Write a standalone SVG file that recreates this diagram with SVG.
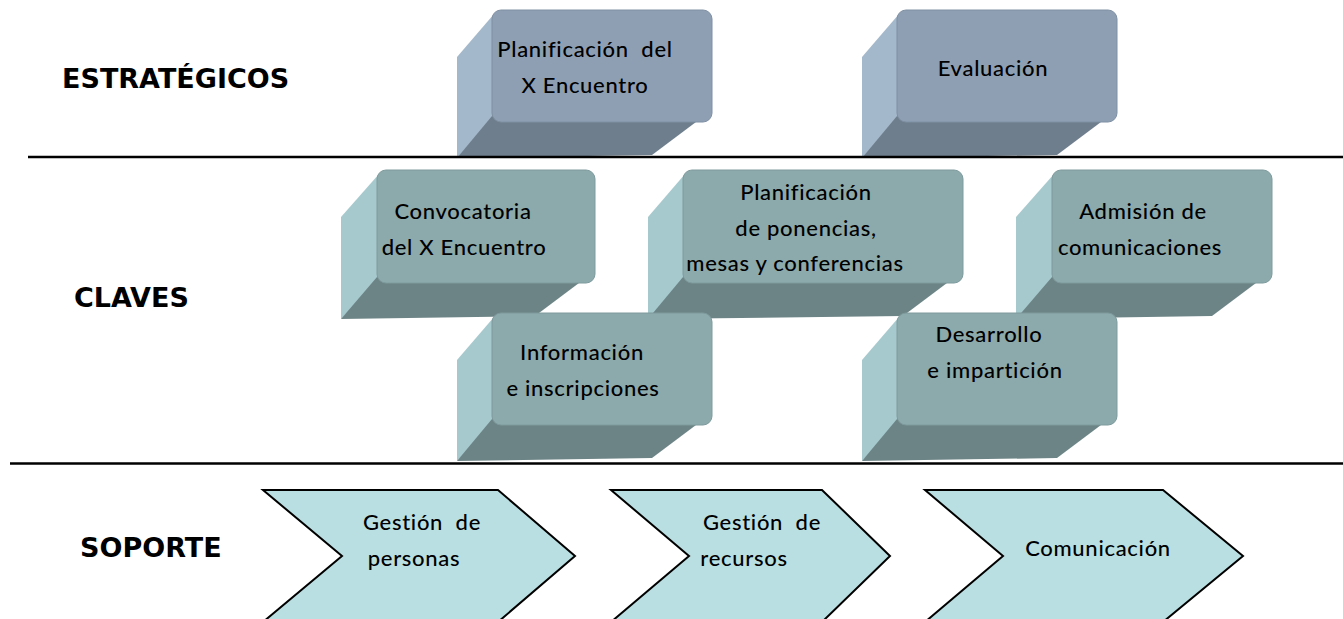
<svg xmlns="http://www.w3.org/2000/svg" width="1343" height="619" viewBox="0 0 1343 619">
<style>
.hd{font-family:"DejaVu Sans","Liberation Sans",sans-serif;font-weight:bold;font-size:27px;fill:#000}
.tx{font-family:Lato,"Open Sans","Liberation Sans",sans-serif;font-size:22px;letter-spacing:0.7px;fill:#000;font-weight:500}
.pre{white-space:pre}
.sf{fill:#8E9FB3;stroke:#7F90A3;stroke-width:1}
.sl{fill:#A4B8CB}
.sb{fill:#6E7E8C}
.cf{fill:#8CA9AB;stroke:#7E9A9C;stroke-width:1}
.cl{fill:#A6C9CE}
.cb{fill:#6D8486}
.chev{fill:#B9DFE2;stroke:#000;stroke-width:2;stroke-linejoin:miter}
.rule{stroke:#000;stroke-width:2.5}
</style>

<g id="label-estrategicos"><text class="hd" x="62" y="88">ESTRATÉGICOS</text></g>
<g id="label-claves"><text class="hd" x="74" y="307">CLAVES</text></g>
<g id="label-soporte"><text class="hd" x="80" y="557">SOPORTE</text></g>

<g id="box-planificacion">
<polygon class="sl" points="494,14 457,57 457,158 494,120"/>
<polygon class="sb" points="492,116 712,110 652,155 457,158"/>
<rect class="sf" x="492" y="10" width="220" height="112" rx="9"/>
<text class="tx pre" x="585" y="57" text-anchor="middle" xml:space="preserve">Planificación  del</text>
<text class="tx" x="585" y="93" text-anchor="middle">X Encuentro</text>
</g>

<g id="box-evaluacion">
<polygon class="sl" points="899,14 862,57 862,158 899,120"/>
<polygon class="sb" points="897,116 1117,110 1057,155 862,158"/>
<rect class="sf" x="897" y="10" width="220" height="112" rx="9"/>
<text class="tx" x="993" y="76" text-anchor="middle">Evaluación</text>
</g>

<g id="box-convocatoria">
<polygon class="cl" points="379,174 341,217 341,319 379,281"/>
<polygon class="cb" points="377,277 595,271 535,316 341,319"/>
<rect class="cf" x="377" y="170" width="218" height="113" rx="9"/>
<text class="tx" x="463" y="219" text-anchor="middle">Convocatoria</text>
<text class="tx" x="464" y="255" text-anchor="middle">del X Encuentro</text>
</g>

<g id="box-ponencias">
<polygon class="cl" points="685,174 648,217 648,319 685,281"/>
<polygon class="cb" points="683,277 963,271 903,316 648,319"/>
<rect class="cf" x="683" y="170" width="280" height="113" rx="9"/>
<text class="tx" x="806" y="200" text-anchor="middle">Planificación</text>
<text class="tx" x="806" y="236" text-anchor="middle">de ponencias,</text>
<text class="tx" x="795" y="271" text-anchor="middle">mesas y conferencias</text>
</g>

<g id="box-admision">
<polygon class="cl" points="1054,174 1016,217 1016,319 1054,281"/>
<polygon class="cb" points="1052,277 1272,271 1212,316 1016,319"/>
<rect class="cf" x="1052" y="170" width="220" height="113" rx="9"/>
<text class="tx" x="1143" y="219" text-anchor="middle">Admisión de</text>
<text class="tx" x="1140" y="255" text-anchor="middle">comunicaciones</text>
</g>

<g id="box-informacion">
<polygon class="cl" points="494,317 457,360 457,461 494,423"/>
<polygon class="cb" points="492,419 712,413 652,458 457,461"/>
<rect class="cf" x="492" y="313" width="220" height="112" rx="9"/>
<text class="tx" x="582" y="360" text-anchor="middle">Información</text>
<text class="tx" x="583" y="396" text-anchor="middle">e inscripciones</text>
</g>

<g id="box-desarrollo">
<polygon class="cl" points="899,317 862,360 862,461 899,423"/>
<polygon class="cb" points="897,419 1117,413 1057,458 862,461"/>
<rect class="cf" x="897" y="313" width="220" height="112" rx="9"/>
<text class="tx" x="989" y="342" text-anchor="middle">Desarrollo</text>
<text class="tx" x="995" y="378" text-anchor="middle">e impartición</text>
</g>

<g id="chev-personas">
<polygon class="chev" points="263,490 498,490 575,556 498,622 263,622 342,556"/>
<text class="tx pre" x="422" y="530" text-anchor="middle" xml:space="preserve">Gestión  de</text>
<text class="tx" x="414" y="566" text-anchor="middle">personas</text>
</g>

<g id="chev-recursos">
<polygon class="chev" points="611,490 822,490 890,556 822,622 611,622 689,556"/>
<text class="tx pre" x="762" y="530" text-anchor="middle" xml:space="preserve">Gestión  de</text>
<text class="tx" x="744" y="566" text-anchor="middle">recursos</text>
</g>

<g id="chev-comunicacion">
<polygon class="chev" points="925,490 1163,490 1243,556 1163,622 925,622 1003,556"/>
<text class="tx" x="1098" y="556" text-anchor="middle">Comunicación</text>
</g>

<g id="connectors">
<line class="rule" x1="28" y1="157" x2="1343" y2="157"/>
<line class="rule" x1="10" y1="463.5" x2="1343" y2="463.5"/>
</g>
</svg>
